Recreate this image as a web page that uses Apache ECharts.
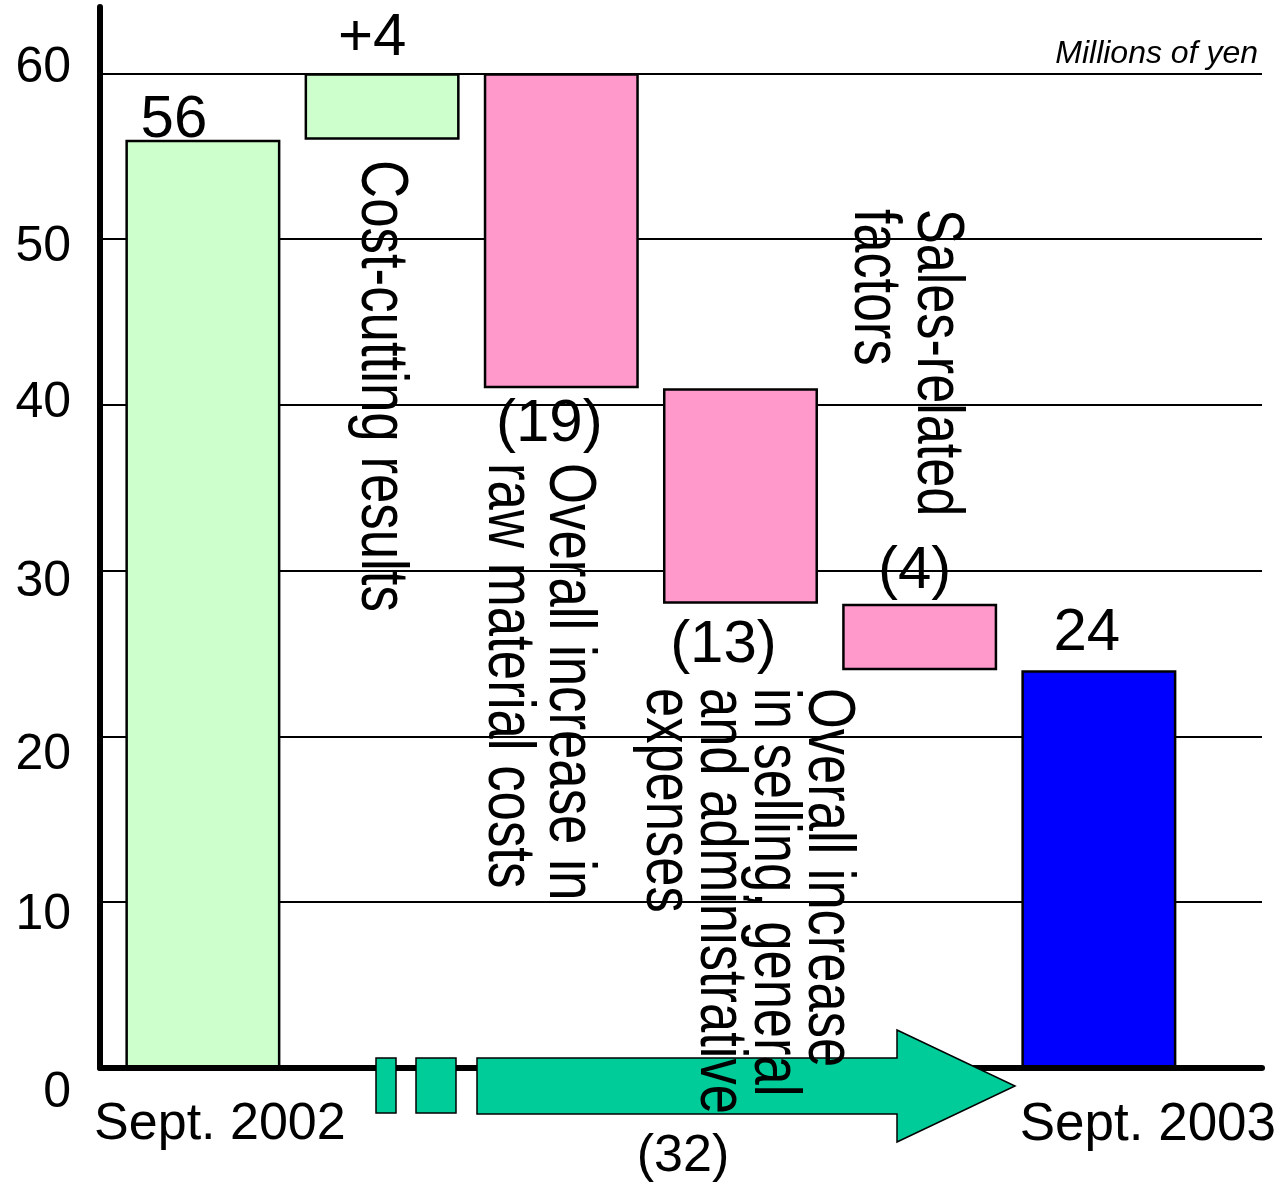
<!DOCTYPE html>
<html><head><meta charset="utf-8">
<script src="https://cdn.jsdelivr.net/npm/echarts@6/dist/echarts.min.js"></script>
<style>html,body{margin:0;padding:0;background:#fff}#c{width:1279px;height:1182px}</style>
</head><body><div id="c"></div>
<script>
// ---------- data ----------
const categories = ['Sept. 2002', 'Cost-cutting results', 'Raw material costs', 'SG&A expenses', 'Sales-related factors', 'Sept. 2003'];
const startValue = 56;
const deltas = [4, -19, -13, -4];
const endValue = 24;
const xTickLabels = ['Sept. 2002', '', '', '', '', 'Sept. 2003'];
const yTickValues = [0, 10, 20, 30, 40, 50, 60];
const unitNote = 'Millions of yen';
const noteTexts = [
  'Cost-cutting results',
  'Overall increase in\nraw material costs',
  'Overall increase\nin selling, general\nand administrative\nexpenses',
  'Sales-related\nfactors'
];

// ---------- build waterfall ----------
const base = [], size = [], kind = [], valueLabels = [];
base.push(0); size.push(startValue); kind.push('start'); valueLabels.push(String(startValue));
let level = startValue;
deltas.forEach(d => {
  const nl = level + d;
  base.push(Math.min(level, nl)); size.push(Math.abs(d));
  kind.push(d >= 0 ? 'up' : 'down');
  valueLabels.push(d >= 0 ? '+' + d : '(' + (-d) + ')');
  level = nl;
});
base.push(0); size.push(endValue); kind.push('end'); valueLabels.push(String(endValue));
const totalChange = deltas.reduce((a, b) => a + b, 0);
const totalLabel = totalChange < 0 ? '(' + (-totalChange) + ')' : '+' + totalChange;

const colorOf = { start: '#CCFFCC', up: '#CCFFCC', down: '#FF99CC', end: '#0000FF' };
const FF = "'Liberation Sans', Arial, Helvetica, sans-serif";

// label placement per bar (layout only)
const labelLayout = [
  { position: 'top', distance: -11, offset: [-29, 0] },
  { position: 'top', distance: 5, offset: [-10, 0] },
  { position: 'bottom', distance: 6, offset: [-12, 0] },
  { position: 'bottom', distance: 12, offset: [-17, 0] },
  { position: 'top', distance: 2, offset: [-5, 0] },
  { position: 'top', distance: 7, offset: [-12, 0] }
];

// per-tick vertical nudges of y labels (layout only)
const yShift = { 0: 25, 10: 13, 20: 19, 30: 12, 40: -2, 50: 8, 60: -5 };
const yRich = {};
yTickValues.forEach(v => {
  const s = yShift[v] || 0;
  yRich['s' + v] = { fontSize: 50, fontFamily: FF, color: '#000',
    padding: s > 0 ? [2 * s, 0, 0, 0] : [0, 0, -2 * s, 0] };
});

const chart = echarts.init(document.getElementById('c'), null, { renderer: 'canvas' });

function note(i, x, y, lh, sx) {
  return { type: 'text', z: 30, x: x, y: y, rotation: -Math.PI / 2, scaleX: sx,
    style: { text: noteTexts[i], fontSize: 66, fontFamily: FF, fill: '#000', lineHeight: lh,
      align: 'left', verticalAlign: 'middle', textAlign: 'left', textVerticalAlign: 'middle' } };
}

const option = {
  animation: false,
  backgroundColor: '#fff',
  grid: [
    { left: 100, right: 17, top: 7, bottom: 114 },
    { left: 113.3, width: 1075.9, top: 7, bottom: 114 }
  ],
  xAxis: [
    { gridIndex: 0, type: 'value', min: 0, max: 1, z: 10,
      axisLine: { show: true, onZero: false, lineStyle: { color: '#000', width: 6 } },
      axisTick: { show: false }, axisLabel: { show: false }, splitLine: { show: false } },
    { gridIndex: 1, type: 'category', data: categories,
      axisLine: { show: false }, axisTick: { show: false }, splitLine: { show: false },
      axisLabel: {
        interval: 0, margin: 31, color: '#000', fontSize: 52, fontFamily: FF,
        formatter: (v, i) => xTickLabels[i] ? (i === 0 ? '{l|' + xTickLabels[i] + '}' : '{r|' + xTickLabels[i] + '}') : '',
        rich: {
          l: { fontSize: 52, fontFamily: FF, color: '#000', padding: [0, 0, 0, 34] },
          r: { fontSize: 53, fontFamily: FF, color: '#000', padding: [0, 0, 0, 98] }
        }
      } }
  ],
  yAxis: [
    { gridIndex: 0, type: 'value', min: 0, max: 64, interval: 10,
      axisLine: { show: true, lineStyle: { color: '#000', width: 6 } },
      axisTick: { show: false },
      splitLine: { show: true, showMinLine: false, showMaxLine: false, lineStyle: { color: '#000', width: 2 } },
      axisLabel: { showMaxLabel: false, margin: 29, color: '#000', fontSize: 50, fontFamily: FF,
        formatter: v => '{s' + v + '|' + v + '}', rich: yRich } },
    { gridIndex: 1, type: 'value', min: 0, max: 64, show: false }
  ],
  series: [
    { type: 'bar', xAxisIndex: 1, yAxisIndex: 1, stack: 'w', barWidth: 155, silent: true,
      itemStyle: { color: 'transparent', borderWidth: 0 }, data: base },
    { type: 'bar', xAxisIndex: 1, yAxisIndex: 1, stack: 'w', barWidth: 155, z: 3,
      itemStyle: { borderColor: '#000', borderWidth: 2.5 },
      label: { show: true, color: '#000', fontSize: 60, fontFamily: FF,
        formatter: p => valueLabels[p.dataIndex] },
      data: size.map((v, i) => ({
        value: v,
        itemStyle: { color: colorOf[kind[i]] },
        label: labelLayout[i]
      })) }
  ],
  graphic: [
    // arrow
    { type: 'rect', z: 20, shape: { x: 376, y: 1058, width: 20, height: 55 },
      style: { fill: '#00CC99', stroke: '#000', lineWidth: 1.5 } },
    { type: 'rect', z: 20, shape: { x: 416, y: 1058, width: 40, height: 55 },
      style: { fill: '#00CC99', stroke: '#000', lineWidth: 1.5 } },
    { type: 'polygon', z: 20, shape: { points: [[477, 1058], [897, 1058], [897, 1030], [1015, 1086], [897, 1142], [897, 1114], [477, 1114]] },
      style: { fill: '#00CC99', stroke: '#000', lineWidth: 1.5 } },
    { type: 'text', z: 25, x: 683, y: 1157,
      style: { text: totalLabel, fontSize: 52, fontFamily: FF, fill: '#000', align: 'center', verticalAlign: 'middle', textAlign: 'center', textVerticalAlign: 'middle' } },
    { type: 'text', z: 25, x: 1258, y: 54,
      style: { text: unitNote, fontSize: 32, fontStyle: 'italic', fontFamily: FF, fill: '#000', align: 'right', verticalAlign: 'middle', textAlign: 'right', textVerticalAlign: 'middle' } },
    // rotated annotations
    note(0, 380, 160, 61, 0.80),
    note(1, 537.5, 463, 61, 0.80),
    note(2, 746, 688, 54, 0.795),
    note(3, 904.5, 209, 63, 0.79)
  ]
};
chart.setOption(option);
</script>
</body></html>
